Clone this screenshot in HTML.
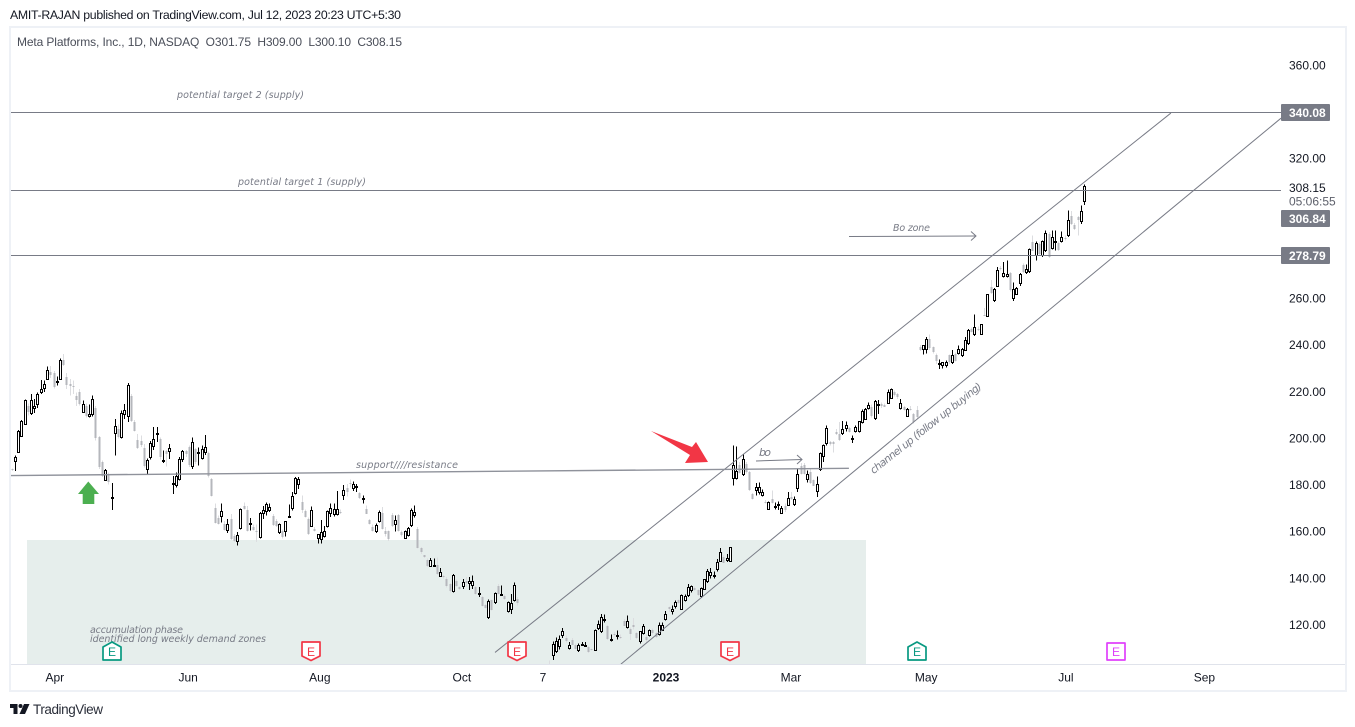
<!DOCTYPE html>
<html lang="en">
<head>
<meta charset="utf-8">
<title>Meta Platforms chart</title>
<style>
html,body{margin:0;padding:0;background:#fff;width:1355px;height:727px;overflow:hidden}
svg{display:block}
text{font-family:"Liberation Sans",sans-serif}
.note{font-family:"DejaVu Sans",sans-serif;font-style:italic;fill:#787b86;font-size:9.5px}
</style>
</head>
<body>
<svg id="chart" width="1355" height="727" viewBox="0 0 1355 727" xmlns="http://www.w3.org/2000/svg">
  <rect x="0" y="0" width="1355" height="727" fill="#ffffff"/>
  <text x="10" y="19" font-size="12.3" fill="#131722" textLength="391">AMIT-RAJAN published on TradingView.com, Jul 12, 2023 20:23 UTC+5:30</text>
  <rect x="10" y="27" width="1336" height="664" fill="none" stroke="#eef1f6" stroke-width="2"/>
  <text x="17" y="46" font-size="12" fill="#4a4e59" textLength="385" xml:space="preserve">Meta Platforms, Inc., 1D, NASDAQ  O301.75  H309.00  L300.10  C308.15</text>
  <defs><clipPath id="pane"><rect x="11" y="28" width="1270" height="636"/></clipPath></defs>
  <rect id="zoneAnchor" x="27" y="540" width="839" height="124" fill="#e6eeec"/>
  <line x1="11" x2="1345" y1="664.5" y2="664.5" stroke="#e0e3eb"/>
  <g id="candles" clip-path="url(#pane)" shape-rendering="crispEdges"></g>
  <g id="drawings" clip-path="url(#pane)"></g>
  <g id="levels"></g>

  <polygon points="651,431 692,447 696,442 708,462 685,463 690,455" fill="#f23645"/>
  <polygon points="88.3,481.5 99,494 94.3,494 94.3,504 82.7,504 82.7,494 78,494" fill="#4caf50"/>

  <polyline points="756,461 802,459.5" fill="none" stroke="#787b86"/>
  <polyline points="797,455 802,459.5 797,464" fill="none" stroke="#787b86"/>
  <polyline points="849,236.5 976,236" fill="none" stroke="#787b86"/>
  <polyline points="971,231.5 976,236 971,240.5" fill="none" stroke="#787b86"/>

  <text class="note" x="177" y="98" textLength="127">potential target 2 (supply)</text>
  <text class="note" x="238" y="185" textLength="128">potential target 1 (supply)</text>
  <text class="note" x="356" y="468" textLength="102">support////resistance</text>
  <text class="note" x="893" y="231" textLength="37">Bo zone</text>
  <text class="note" x="759" y="456" font-size="11" style="font-size:11px" textLength="12">bo</text>
  <text class="note" x="0" y="0" text-anchor="middle" textLength="139" transform="translate(928,431) rotate(-38.5)" style="font-size:10.5px">channel up (follow up buying)</text>
  <text class="note" x="90" y="633" textLength="93">accumulation phase</text>
  <text class="note" x="90" y="642" textLength="176">identified long weekly demand zones</text>

  <g id="earnings"></g>
  <g id="yaxis"></g>
  <g id="xaxis"></g>

  <text x="1289" y="192" font-size="12" fill="#131722">308.15</text>
  <text x="1289" y="205.5" font-size="12" fill="#5d606b">05:06:55</text>

  <g fill="#131722">
    <polygon points="10,704 17.5,704 17.5,714 13.5,714 13.5,708 10,708"/>
    <circle cx="20.5" cy="706" r="2"/>
    <polygon points="24,704 29.5,704 25,714 19.5,714"/>
  </g>
  <text x="33" y="714" font-size="13.5" fill="#2a2e39" textLength="70">TradingView</text>
</svg>
<script>
const opens = [186.9,190.5,194.1,201.2,206.3,214.1,210.8,213,214.8,219.8,
221.7,225.6,228.4,228.1,224.3,225.6,233.7,226.3,223.4,222.7,
218.4,219.8,211.3,214.1,209.8,210.3,213,200.5,189.8,182,
184.8,174.4,202.4,204.1,200.5,210.3,209.8,218.1,207,199.5,
199.1,196,187,192,196.7,202,199.8,190.6,194.5,194.5,
180.5,180.2,182.7,191.2,194.5,196.2,188,195.5,193.8,191.7,
194,193.7,182.7,170,165.8,166.6,163.4,160.9,165.5,158.3,
155.8,161.6,171.2,169.5,163.5,162,160.5,157.6,167.9,169,
169.5,166.9,164.4,159.8,160.5,160.2,166.3,170,176.6,180.5,
172.7,168.7,165.5,162.4,161,157.2,156.9,158.1,162.4,168,
167.7,167.4,168.6,175.8,178.8,180.8,178.7,179.2,176.5,174.1,
169.8,165,162.2,160.1,164.8,168.1,160.5,160.2,167,163.1,
167,160,157.4,158.4,162.7,167.2,161.2,153.1,149.8,148,
145.1,145.5,145.5,141.2,141,139.8,137.4,134.4,139,136.2,
136.6,138.8,137.9,137.3,136.2,133.4,132,128.6,123.3,130.5,
130,136.5,133,132.6,125.9,127,130.5,131.2,102,98,
99,93,94,91,92,95,97,103,107.2,108.7,
110.9,115.5,114.5,110,113.6,111.3,109.4,111.5,111.3,110.5,
109.5,109.3,118.8,117.3,122.2,119.7,113.8,116,115.3,115,
121.9,119,118.3,120,116.6,112.9,116.6,115,115.7,117.9,
116.5,116.2,117.9,122.6,127.5,125.8,128.3,130.5,126.9,130.8,
133,134.8,136,135.2,132.3,135.5,139,141.5,141.4,143.8,
147.6,149,147.9,147.6,183.1,183.1,188.8,184.8,189.1,185.5,
176,178,177,175.8,172.7,169.8,174,170.8,171.5,168,
171.2,171.5,174.8,171.7,178.8,188,188.4,182.4,185.5,182,
177.4,187,192.3,198,198.4,198.4,202.7,202,202.3,204.5,
204.5,200,203,203,207,208.4,213,213.5,208.8,214.4,
214.7,214.4,215.3,217.4,219.8,219,213.1,213.4,209.8,212.7,
210.5,212,239.2,238.5,238.2,242.7,239.1,236,232.1,231.3,
231.3,235.6,232.7,236.3,236.6,235.6,238,241,247,244.9,
247,244.9,253,252.7,264.9,259.5,265.6,273,269.7,269.8,
270.9,260.3,262,266.8,274.2,271.3,271.8,284.2,278.5,283.5,
278.8,280.9,287.8,281.8,284.3,283.8,284.5,286,287.4,295.6,
291.6,294.9,293.5,301.75];
const highs = [187.2,192.7,203.7,208,216.7,215,219.1,217,219.8,225.1,
224.8,230.8,231,229,226.6,234.4,236.3,228,225.5,224.8,
219.8,221.3,216.3,215,214.5,218.4,214,201,190.5,187,
185.5,180.8,208.4,206,212,214.8,223.7,219,208,202,
201.2,197.7,191.5,199,205,205,200.5,194.8,195,197.7,
184,185.5,192,195,195,197,200.5,196,196.2,197,
201.5,194.5,183,172,167,172,164.5,165.5,167.6,159,
159.8,170,172.5,171,165.8,163,163,168.5,171,172.6,
172,167.5,165.5,163.5,161,164.5,171.6,177,183.5,183.5,
175.5,169.5,166,170.8,162,158.8,165,162.5,169,172.2,
172,177.4,169.5,180,180.5,182.5,181.5,180.5,177,175.5,
171.2,165.5,163,163.5,169,170.5,162,160.5,168,167,
167.5,160.5,160.5,162,170,171.2,162,153.5,150,148.5,
148.8,148.5,149,144.5,141.5,140.5,138,141.8,139.5,136.5,
139.8,140.5,140.5,141.2,136.8,136.2,132.5,129,131,131,
134,137.5,137,133,130,133.3,138.3,132,102.5,100,
100,96,95,92,97,98,102,104.8,112.9,114.7,
115.5,118.7,115.5,112.6,114.5,112,112,112.6,112.6,111,
109.8,118,121.9,124.7,124.5,120,116,117,117.6,116,
122.5,124,119,123,117,117,120.5,116,118,118.5,
117,121,121,125.9,128,128.3,130.5,131,133,133,
137.6,137,136.5,135.5,136,139.5,144,144.5,143,148.3,
153,150,150.5,153.4,197,196.5,190,193.4,190,186,
176.5,180.8,181,178,173.5,173,177.6,172.6,173,171,
172,177,177,175,187,189.5,189.5,186.3,187,182.5,
183.7,194,197.5,205.5,199,199,204,207,207.4,207.3,
205,201.3,205.5,207.5,212.5,213,215.5,214.5,216.5,216.5,
215.5,215,221,221.5,220.5,219.5,217,214,213,214,
211,214,240,240.2,243.5,244.5,239.5,236.5,233.9,232.7,
233.5,236,238,236.8,239.9,238.8,243.5,247,247.5,253.2,
248,249,256,262,268,264.5,273.5,274,275.6,276.3,
271.5,267,265,271,275,274.6,281.5,287,284.5,284,
285,289.2,288.5,289.2,289.2,284.5,288.8,287,297.8,297.5,
292.5,295.5,300,309];
const lows = [186,186,194,200.8,206,209.8,210,211,213,219.1,
220,225,226,221.5,222.7,225,231,221.3,218.4,219.1,
214,214.1,211,209,209,209.4,199.2,187,183.5,181.7,
180.2,169.4,192.7,200,200,208.4,207,207,203,195.5,
196.4,187.5,184.8,191,195,198.4,191,189.4,188,191.2,
176.2,179,182,190,192,187.7,187,189,188.4,191,
193,183.3,175,163.5,163,164,160.5,159.5,156.5,155.5,
154,161,169.5,160,160.5,160.5,155.5,157,165.5,167,
168.4,162.5,162,159,157,158,165.8,169,176,178.4,
168,166,158.5,162,160,155,155,157.5,161.7,166.2,
166.5,167,167.5,173.7,175,179,177.5,177,174,172,
167.5,163,160,159.5,164,161,158,156,162,160,
160,158,157,158,162,166,152.7,150.5,148.8,144.8,
144.8,145,141.5,140.5,140,136,134,134,136.3,135,
135.5,136.2,135,135.5,133,132,128,127,122.6,126.3,
129,133,132.5,130.8,125.4,124.8,130,128.3,96,97,
93,92.5,88.5,88,91,94.5,96,101,105,108,
109.5,114.5,112.5,109.5,111.5,109.5,108.3,111,110.8,108,
109,109,117.9,116.5,121,113.5,113,115,113.8,114,
119.5,118.5,113.5,118,114,112,116,112.5,115,116,
114.5,115.5,117.5,122,125.5,124.5,127,129,126.5,130,
132,134,134.5,132.5,131.5,135,138,140,140,143,
147,146.5,147,147,179.8,182.5,185,184,185,177.5,
173.8,175.5,176,175,172,169.5,172,169.5,169.4,167.6,
168.5,171,173.5,171,177,184.5,184.5,181,180.5,179.5,
174.8,186,190,197,197,194,201.5,199,201.5,203,
202.5,198,202.5,202.5,206.5,208,212.5,209,208,210.5,
213,213.5,215,217,218,217,212.5,212,209.5,212,
206.5,208.5,237.5,236,236.5,238,236.5,232,229.9,230,
230.5,232,232,233,236,235,237.5,240,245.5,244,
246,244.5,252.5,252,262,258.5,265,272,269,269,
263,258.9,261.5,265.5,271,270.5,271,280.5,276.3,278.5,
277.8,280,277.5,281,280.6,280.5,284,285,286.5,291.5,
289.5,287,292,300.1];
const closes = [186.3,192,203.1,207.7,216.3,211.3,216.3,213.8,219.1,221.3,
223.4,229.4,227.4,222,224.6,233.7,231.7,223.1,222.7,222,
216.3,214.8,214.8,209.8,210.5,217,200.2,187.7,184.1,186.5,
181.2,174.8,205.2,200.5,211,212,223.1,207.7,203.4,196,
197.4,188,190.8,198,199.8,202.4,192,190.9,193.4,196,
180.9,183.7,191.2,194.5,193.4,188.4,198.5,189.8,194,195.5,
196.4,183.7,175.5,163.8,163.4,169,160.9,163.4,156.9,155.8,
158.6,169.8,169.8,160.5,163.8,160.8,159.8,168,169.4,171.9,
170.5,162.9,162.6,163.4,157.6,164.5,166.7,175.5,183,182.7,
169.1,166.5,158.8,169.4,160.3,158.8,159.7,160.1,168.7,170.3,
169.8,169.8,167.9,178,177,180.3,180.5,179.4,174.5,174.4,
167.7,163.1,160.5,163,168.4,161.2,159.1,157,162.4,165.2,
160.2,158.4,160.2,161.7,169.1,168.4,153.1,151.2,149.1,145.1,
147.9,145.8,142,142.6,140.5,136.5,134.4,141.5,136.5,135.5,
138.6,137.9,138.8,139,133.3,133.6,128.3,127.3,130.2,126.6,
133.8,133.1,133.3,131.2,129.8,129.5,137.2,129.5,98,99,
93.2,95.2,90.5,90.8,96.7,96.5,101.5,102,111.9,112.9,
114,117.2,113,111.6,111.6,109.7,111.5,111.8,111.6,108.3,
109.3,117.9,120.5,123.6,122.4,113.9,114,115.7,115.6,114.5,
119.7,121.5,116.2,119,114.5,117.2,119.7,113.5,117.9,116.6,
115,120,120,124.8,126.8,126.9,130,129.5,132.9,132.6,
136.2,136.9,135,133,135.9,139.5,143.3,142.9,141.6,147.2,
151.2,146.6,148.8,153.4,188.7,186.2,185.1,191.3,185.5,177.7,
174.1,179.1,179.1,177.2,172.2,172.7,172.4,171,171.7,170.2,
169.1,174.5,174.1,174.1,184.8,184.8,184.8,184.8,180.8,179.8,
180.5,193.7,197.2,204.5,197.7,197.7,202,199.5,204.1,205.8,
202.7,200.2,205.1,207.4,211.7,212.7,214.4,209.5,215.9,214.7,
214,213.7,219.9,221.3,218.8,217.7,215.3,212.3,212.7,212,
207,209.1,238,239.9,242.7,238.9,237,233.4,232.4,232.7,
233,232.7,235.6,233.4,238.5,238.5,242.4,246.6,245.6,248,
246.5,248.9,252.6,261.8,262.3,264.2,272.3,272.5,271,270.6,
263.5,264.2,264.6,270.6,271.3,272.8,281.3,280.6,283.9,279,
284.5,288.2,278,286.6,284.6,280.9,286.6,285.5,293.8,292,
290,293.8,297.5,308.15];

const priceTicks = [360,320,260,240,220,200,180,160,140,120];
const levelPrices = [340.08,306.84,278.79];
const levelLabels = ["340.08","306.84","278.79"];
const levelLabelPrices = [340.08,294.7,278.79];
const timeLabels = ["Apr","Jun","Aug","Oct","7","2023","Mar","May","Jul","Sep"];
const timeBars = [13.4,54.8,95.7,139.8,165,203.2,242,284,327.4,370.4];
const earningsBars = [31.2,93,157,223,281,343];
const earningsKinds = ["beat","miss","miss","miss","beat","next"];

const channelUpperBars = [150.1,360];
const channelUpperPrices = [108.2,339.6];
const channelLowerBars = [189.2,394.2];
const channelLowerPrices = [103.2,337.4];
const supportBars = [-0.5,260];
const supportPrices = [184.1,187.2];

function xScale(i){ return 11.7 + 3.22 * i; }
function yScale(p){ return 65.5 + (360 - p) * 2.331; }

const NS = "http://www.w3.org/2000/svg";
function make(tag, attrs, parent){
  const el = document.createElementNS(NS, tag);
  for (const k in attrs) el.setAttribute(k, attrs[k]);
  parent.appendChild(el);
  return el;
}

const candleGroup = document.getElementById("candles");
opens.forEach(function(o, i){
  const c = closes[i];
  const hi = Math.max(highs[i], o, c);
  const lo = Math.min(lows[i], o, c);
  const rx = Math.round(xScale(i));
  const up = c >= o;
  const top = Math.round(yScale(Math.max(o, c)));
  const bot = Math.round(yScale(Math.min(o, c)));
  const g = make("g", {}, candleGroup);
  
  
  make("line", {x1: rx + 0.5, x2: rx + 0.5, y1: yScale(hi), y2: yScale(lo), stroke: up ? "#000000" : "#dcdde0"}, g);
  if (up) {
    make("rect", {x: rx - 0.5, y: top + 0.5, width: 2, height: Math.max(bot - top, 1), fill: "#ffffff", stroke: "#000000"}, g);
  } else {
    make("rect", {x: rx - 0.5, y: top, width: 2, height: Math.max(bot - top, 1), fill: "#b5b7bc"}, g);
  }
});

const drawGroup = document.getElementById("drawings");
function trend(bars, prices, color, width, name){
  const ln = make("line", {x1: xScale(bars[0]), y1: yScale(prices[0]), x2: xScale(bars[1]), y2: yScale(prices[1]), stroke: color, "stroke-width": width}, drawGroup);
  
  
}
trend(channelUpperBars, channelUpperPrices, "#787b86", 1, "channel-upper-line");
trend(channelLowerBars, channelLowerPrices, "#787b86", 1, "channel-lower-line");
trend(supportBars, supportPrices, "#8f929b", 1.4, "support-resistance-line");

const levelGroup = document.getElementById("levels");
levelPrices.forEach(function(p, i){
  const ly = Math.ceil(yScale(p)) + 0.5;
  const ln = make("line", {x1: 11, x2: 1281, y1: ly, y2: ly, stroke: "#787b86"}, levelGroup);
  
  
  const by = Math.ceil(yScale(levelLabelPrices[i]));
  const box = make("rect", {x: 1281, y: by - 8, width: 49, height: 17, fill: "#787b86", rx: 1}, levelGroup);
  
  
  const tx = make("text", {x: 1289, y: by + 5, "font-size": 12, fill: "#ffffff", "font-weight": "bold"}, levelGroup);
  
  
  tx.textContent = levelLabels[i];
});

const yaxis = document.getElementById("yaxis");
priceTicks.forEach(function(p){
  const t = make("text", {x: 1289, y: yScale(p) + 4, "font-size": 12, fill: "#131722"}, yaxis);
  
  
  t.textContent = p.toFixed(2);
});

const xaxis = document.getElementById("xaxis");
timeLabels.forEach(function(label, i){
  const bold = label === "2023";
  const t = make("text", {x: xScale(timeBars[i]), y: 681.5, "font-size": 12, fill: "#131722", "text-anchor": "middle", "font-weight": bold ? "bold" : "normal"}, xaxis);
  
  
  t.textContent = label;
});

const earnGroup = document.getElementById("earnings");
const earnColors = {beat: "#089981", miss: "#f23645", next: "#e040fb"};
earningsBars.forEach(function(b, i){
  const kind = earningsKinds[i];
  const col = earnColors[kind];
  const cx = Math.round(xScale(b));
  let pts;
  if (kind === "beat") pts = [[cx-9,647],[cx,642],[cx+9,647],[cx+9,660],[cx-9,660]];
  else if (kind === "miss") pts = [[cx-9,642],[cx+9,642],[cx+9,656],[cx,660.5],[cx-9,656]];
  else pts = [[cx-9,643],[cx+9,643],[cx+9,660],[cx-9,660]];
  const poly = make("polygon", {points: pts.map(function(q){ return q.join(","); }).join(" "), fill: "#ffffff", stroke: col, "stroke-width": 1.7, "stroke-linejoin": "round"}, earnGroup);
  
  
  const t = make("text", {x: cx, y: 656, "font-size": 12, fill: col, "text-anchor": "middle"}, earnGroup);
  
  
  t.textContent = "E";
});
</script>
</body>
</html>
